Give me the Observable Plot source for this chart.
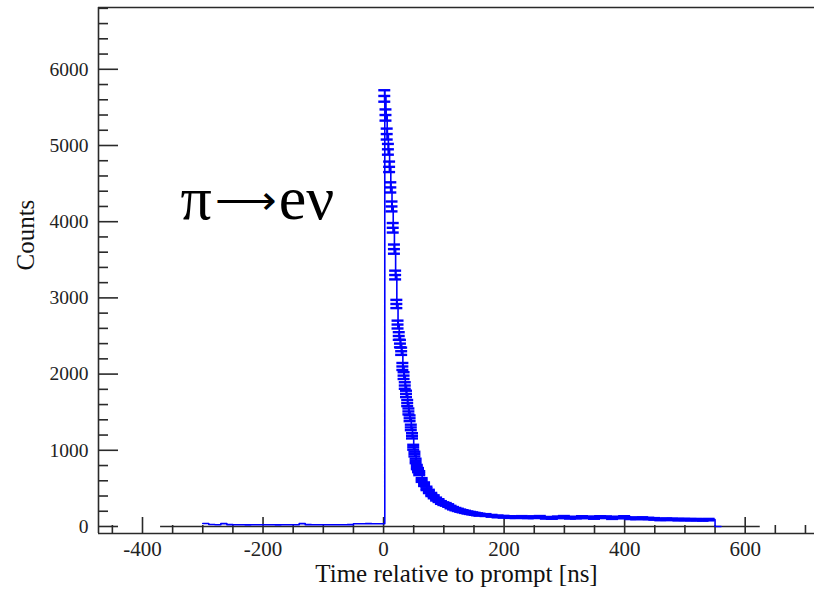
<!DOCTYPE html>
<html><head><meta charset="utf-8">
<script src="https://cdn.jsdelivr.net/npm/d3@7"></script>
<script src="https://cdn.jsdelivr.net/npm/@observablehq/plot@0.6"></script>
<style>body{margin:0;background:#fff}</style>
</head><body><div id="chart"></div>
<script>
// ---- data ----
const preTimes  = [-300,-290,-280,-270,-260,-250,-240,-230,-220,-210,-200,-190,-180,-170,-160,-150,-140,-130,-120,-110,-100,-90,-80,-70,-60,-50,-40,-30,-20,-10,0];
const preCounts = [40,26,22,38,24,22,22,21,22,22,23,22,21,22,22,23,38,24,22,22,22,23,22,22,24,36,36,37,36,36,36];
const decayTimes  = [2,4,6,8,10,12,14,16,18,20,22,24,26,28,30,32,34,36,38,40,42,44,46,48,50,52,54,56,58,60,
  64,68,72,76,80,84,88,92,96,100,104,108,112,116,120,124,128,132,136,140,144,148,152,156,160,
  170,180,190,200,210,220,230,240,250,260,270,280,290,300,310,320,330,340,350,360,370,380,390,400,410,420,430,440,450,460,470,480,490,500,510,520,530,540,550,560];
const decayCounts = [5650,5400,5150,4950,4720,4450,4200,3920,3640,3300,2920,2650,2500,2400,2300,2100,1980,1850,1740,1620,1510,1420,1300,1190,1040,950,860,780,740,700,
  610,555,500,460,420,390,360,340,315,300,290,275,255,240,228,218,208,200,192,184,178,172,166,160,155,
  150,140,132,128,124,122,125,120,122,126,114,112,120,126,114,116,124,120,112,124,122,110,118,124,108,106,110,104,100,92,96,94,90,92,88,90,86,90,0,0];
const xMajorTicks = [-400,-200,0,200,400,600];
const yMajorTicks = [0,1000,2000,3000,4000,5000,6000];
const zeroLineRange = [-370, 625];
const labelParts = ["π", "\u27F6", "eν"];
const decayLabel = labelParts.join("");
const xTitle = "Time relative to prompt [ns]";
const yTitle = "Counts";

// ---- layout ----
const W = 814, H = 592, mL = 98, mT = 7, mR = 0, mB = 59;
const xDomain = [-473, 715], yDomain = [-92, 6811];
const pxX = (xDomain[1] - xDomain[0]) / (W - mL - mR);
const pxY = (yDomain[1] - yDomain[0]) / (H - mT - mB);
const blue = "#0000ff", ink = "#2a2a2a";

const times = preTimes.concat(decayTimes);
const counts = preCounts.concat(decayCounts);
const data = times.map((t, i) => ({t, v: counts[i], e: Math.sqrt(counts[i])}));
const errData = data.filter(d => d.t > 0 && d.v > 0);
const xMinor = d3.range(-450, 716, 50).filter(v => !xMajorTicks.includes(v));
const yMinor = d3.range(0, 6801, 200).filter(v => !yMajorTicks.includes(v));
const capW = 6 * pxX;

const chart = Plot.plot({
  width: W, height: H,
  marginLeft: mL, marginTop: mT, marginRight: mR, marginBottom: mB,
  style: {fontFamily: "'Liberation Serif', 'Times New Roman', serif", background: "#fff"},
  x: {domain: xDomain, label: null},
  y: {domain: yDomain, label: null},
  marks: [
    Plot.axisX({ticks: xMajorTicks, tickSize: 0, tickPadding: 8, fontSize: 21, fill: "#222", tickFormat: d => String(d), label: null}),
    Plot.axisY({ticks: yMajorTicks, tickSize: 0, tickPadding: 10, fontSize: 19.5, fill: "#222", tickFormat: d => String(d), label: null}),
    // inward ticks
    Plot.ruleX(xMajorTicks, {y1: yDomain[0], y2: yDomain[0] + 16 * pxY, stroke: ink, strokeWidth: 1.6}),
    Plot.ruleX(xMinor, {y1: yDomain[0], y2: yDomain[0] + 8 * pxY, stroke: ink, strokeWidth: 1.6}),
    Plot.ruleY(yMajorTicks, {x1: xDomain[0], x2: xDomain[0] + 20 * pxX, stroke: ink, strokeWidth: 1.6}),
    Plot.ruleY(yMinor, {x1: xDomain[0], x2: xDomain[0] + 10 * pxX, stroke: ink, strokeWidth: 1.6}),
    // frame
    Plot.ruleX([xDomain[0]], {stroke: ink, strokeWidth: 1.6}),
    Plot.ruleY([yDomain[0], yDomain[1]], {stroke: ink, strokeWidth: 1.6}),
    // zero reference line
    Plot.ruleY([0], {x1: zeroLineRange[0], x2: zeroLineRange[1], stroke: ink, strokeWidth: 1.6}),
    // histogram
    Plot.line(data, {x: "t", y: "v", curve: "step-after", stroke: blue, strokeWidth: 1.6}),
    Plot.ruleX(errData, {x: "t", y1: d => d.v - d.e, y2: d => d.v + d.e, stroke: blue, strokeWidth: 2}),
    Plot.ruleY(errData, {y: d => d.v + d.e, x1: d => d.t - capW, x2: d => d.t + capW, stroke: blue, strokeWidth: 2.4}),
    Plot.ruleY(errData, {y: d => d.v - d.e, x1: d => d.t - capW, x2: d => d.t + capW, stroke: blue, strokeWidth: 2.4}),
    Plot.ruleY(errData, {y: "v", x1: d => d.t - capW, x2: d => d.t + capW, stroke: blue, strokeWidth: 2.4}),
    // texts
    Plot.text([decayLabel], {frameAnchor: "top-left", dx: 82, dy: 167, fontSize: 62, textAnchor: "start", lineAnchor: "top", fill: "#000", className: "decay-label"}),
    Plot.text([xTitle], {frameAnchor: "bottom", dy: 48, fontSize: 25, fill: "#111"}),
    Plot.text([yTitle], {frameAnchor: "left", dx: -73, rotate: -90, fontSize: 25, fill: "#111"})
  ]
});
// Typeset the label: thinner, shorter arrow raised to the math axis
d3.select(chart).selectAll(".decay-label text").each(function() {
  const t = d3.select(this);
  t.text(null);
  t.append("tspan").text(labelParts[0]);
  t.append("tspan").attr("font-size", 43).attr("dy", -4).attr("dx", 3).text(labelParts[1]);
  t.append("tspan").attr("dy", 4).attr("dx", 2).text(labelParts[2]);
});
document.getElementById("chart").appendChild(chart);
</script>
</body></html>
